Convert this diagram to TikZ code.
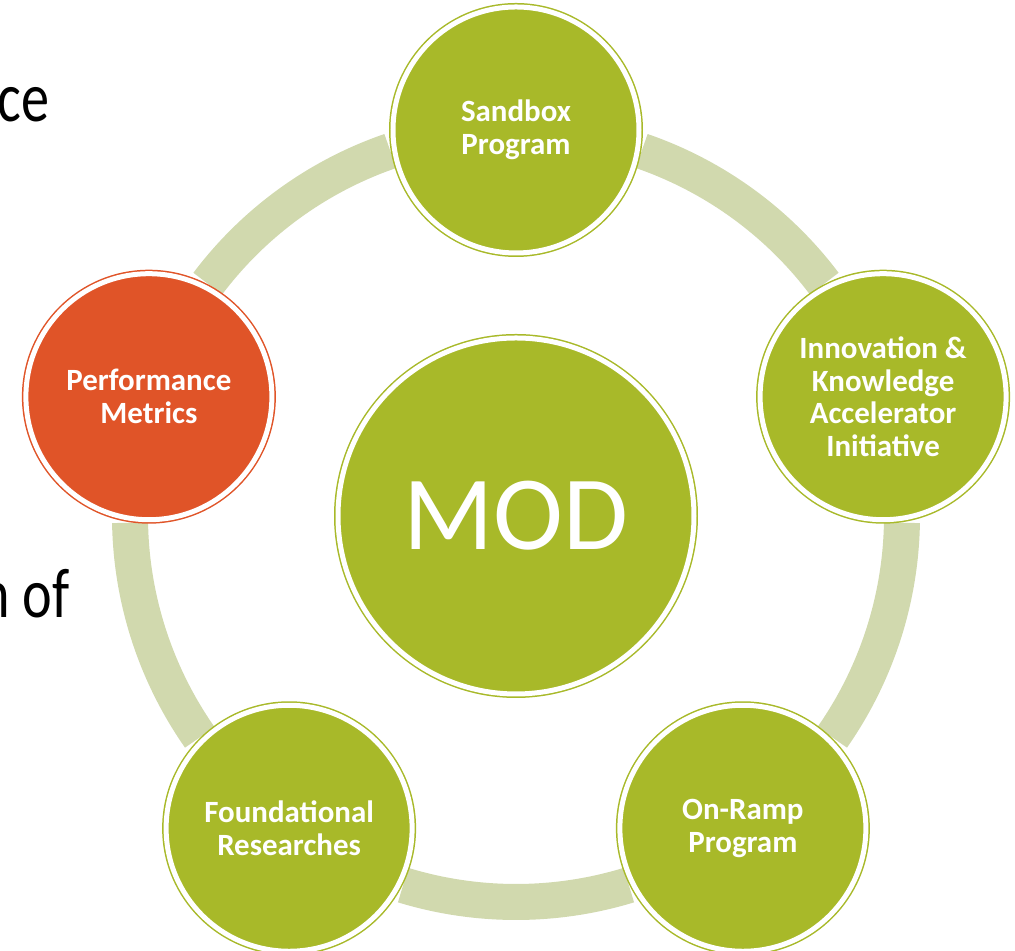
\documentclass[tikz,border=0pt]{standalone}
\usepackage{fontspec}
\setmainfont{Carlito}

\definecolor{modgreen}{RGB}{168,185,41}
\definecolor{modorange}{RGB}{224,84,40}
\definecolor{ringgreen}{RGB}{209,217,174}

\def\ringR{3.86}
\def\gapA{19}

\begin{document}
\begin{tikzpicture}[
    item/.style={circle, fill=modgreen, draw=modgreen, double=white,
      double distance=0.05cm, line width=0.015cm, minimum size=2.46cm,
      inner sep=0pt, text=white, align=center,
      font=\bfseries\fontsize{8.8}{9.3}\selectfont},
    hot/.style={item, fill=modorange, draw=modorange},
    hub/.style={item, minimum size=3.56cm, font=\fontsize{30}{30}\selectfont},
    side/.style={anchor=base east, inner sep=0pt, font=\fontsize{20}{24}\selectfont}
  ]
      \useasboundingbox (0,0) rectangle (10.15,-9.51);
      \coordinate (c) at (5.16,-5.16);
      % ring between the outer circles
      \foreach \a [evaluate=\a as \s using \a+\gapA,
                   evaluate=\a as \e using \a+72-\gapA] in {90,162,234,306,378} {
          \draw[ringgreen, line width=0.36cm] ([shift={(\s:\ringR)}]c)
              arc[start angle=\s, end angle=\e, radius=\ringR];
      }
      \node[hub] (mod) at (c) {MOD};
      \node[item] (sandbox) at ([shift={(90:\ringR)}]c) {Sandbox\\Program};
      \node[item] (innovation) at ([shift={(18:\ringR)}]c) {Innovation \&\\Knowledge\\Accelerator\\Initiative};
      \node[item] (onramp) at ([shift={(-54:\ringR)}]c) {On-Ramp\\Program};
      \node[item] (foundational) at ([shift={(-126:\ringR)}]c) {Foundational\\Researches};
      \node[hot] (metrics) at ([shift={(162:\ringR)}]c) {Performance\\Metrics};
      % cut-off text at the left
      \node[side] (ce) at (0.50,-1.22) {\scalebox{0.8}[1]{ce}};
      \node[side] (nof) at (0.70,-6.18) {\scalebox{0.8}[1]{n of}};
    \end{tikzpicture}
\end{document}
